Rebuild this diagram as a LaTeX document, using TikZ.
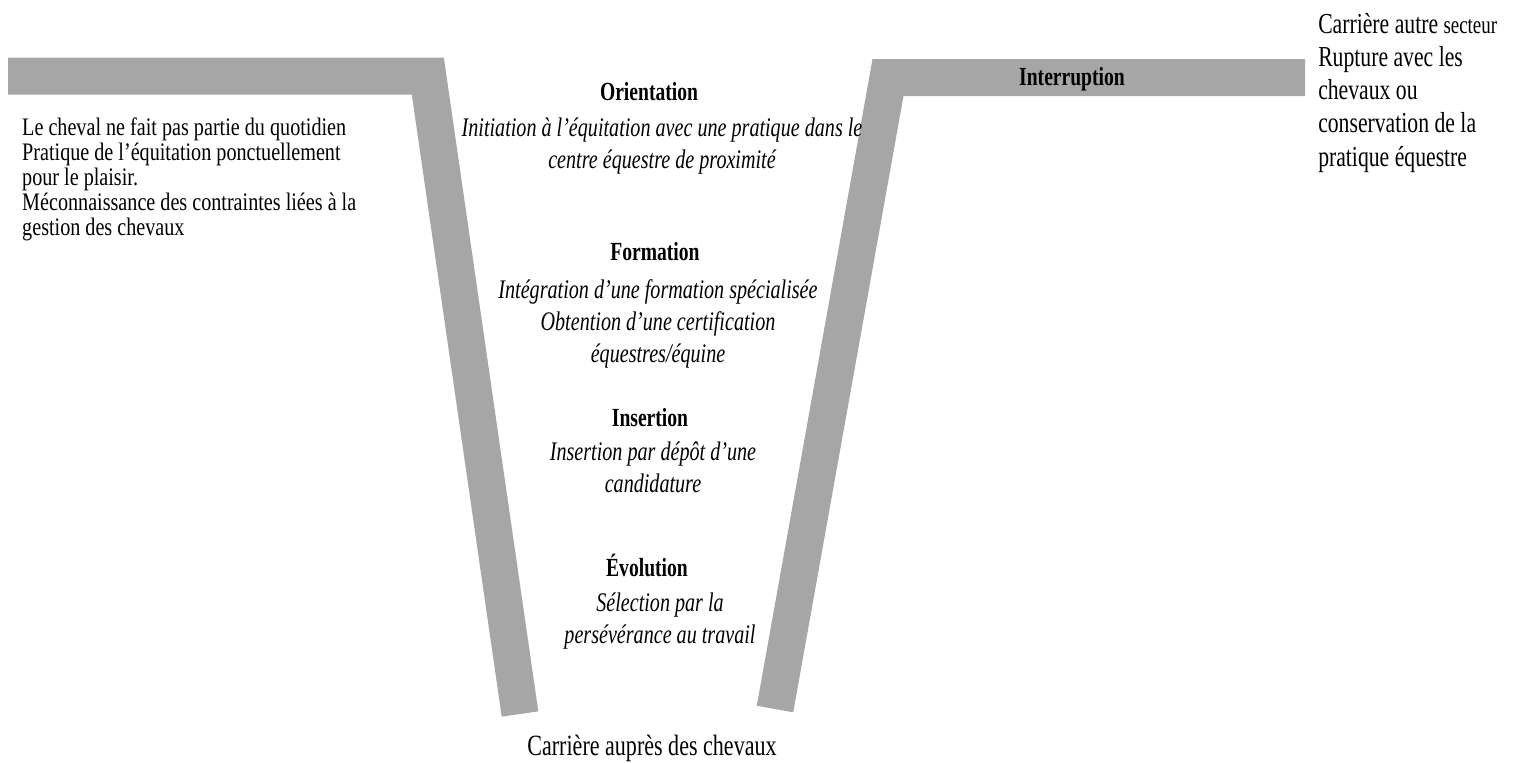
\documentclass[tikz,border=0pt]{standalone}
\usepackage{fontspec}
\setmainfont{Liberation Serif}[FakeStretch=0.75]
\newfontfamily\notefont{Liberation Serif}[FakeStretch=0.8]
\definecolor{bargray}{HTML}{A6A6A6}

\begin{document}
\begin{tikzpicture}[
        x=0.3mm, y=-0.3mm,
        bar/.style={draw=bargray, line width=11.1mm, line cap=butt, line join=miter},
        note/.style={inner sep=0pt, align=left, font=\notefont\fontsize{21.5}{21.3}\selectfont},
        side/.style={inner sep=0pt, align=left, font=\fontsize{24.7}{28.2}\selectfont},
        phase/.style={inner sep=0pt, font=\fontsize{22.3}{26}\selectfont\bfseries},
        detail/.style={inner sep=0pt, align=center, font=\fontsize{22.9}{27.3}\selectfont\itshape},
        career/.style={inner sep=0pt, font=\fontsize{25.1}{29}\selectfont}
    ]
        \useasboundingbox (0,0) rectangle (1518,762);

        % the two arms of the V
        \draw[bar] (8,76) -- (427.8,76) -- (520,714);
        \draw[bar] (1305,77.5) -- (888,77.5) -- (775,709);

        \node[note, anchor=north west] (daily) at (22,118) {Le cheval ne fait pas partie du quotidien\\Pratique de l’équitation ponctuellement\\pour le plaisir.\\Méconnaissance des contraintes liées à la\\gestion des chevaux};
        \node[side, anchor=north west] (exit) at (1318,13.5) {Carrière autre {\fontsize{21.5}{28.2}\selectfont secteur}\\Rupture avec les\\chevaux ou\\conservation de la\\pratique équestre};

        \node[phase] (orientation) at (649,92) {Orientation};
        \node[detail] (initiation) at (662,146.5) {Initiation à l’équitation avec une pratique dans le\\centre équestre de proximité};
        \node[phase] (formation) at (655,252) {Formation};
        \node[detail] (training) at (658,324) {Intégration d’une formation spécialisée\\Obtention d’une certification\\équestres/équine};
        \node[phase] (insertion) at (650,418) {Insertion};
        \node[detail] (application) at (653,467.5) {Insertion par dépôt d’une\\candidature};
        \node[phase] (evolution) at (647,565) {Évolution};
        \node[detail] (selection) at (660,621.5) {Sélection par la\\persévérance au travail};
        \node[career] (career) at (652,748) {Carrière auprès des chevaux};
        \node[phase] (interruption) at (1072,79) {Interruption};
    \end{tikzpicture}
\end{document}
